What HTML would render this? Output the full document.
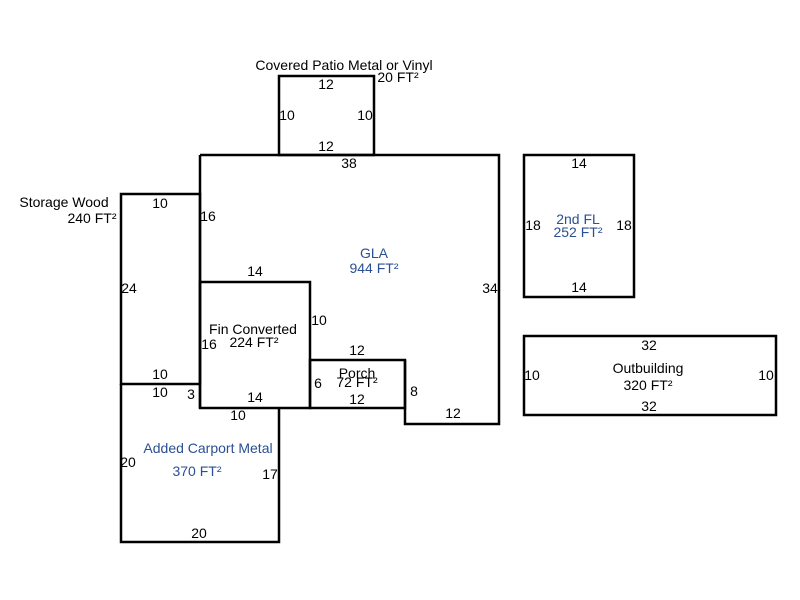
<!DOCTYPE html>
<html><head><style>html,body{margin:0;padding:0;background:#fff}svg{display:block}text{font-family:"Liberation Sans",Arial,sans-serif;font-size:14px;fill:#000}.b{fill:#2a4f94}</style></head><body>
<svg width="800" height="600" viewBox="0 0 800 600" xmlns="http://www.w3.org/2000/svg">
<g fill="none" stroke="#000" stroke-width="2.5">
<rect x="279" y="76" width="95" height="79"/>
<path d="M200 155 H499 V424 H405 V360"/>
<path d="M200 155 V408"/>
<rect x="121" y="194" width="79" height="190"/>
<rect x="200" y="282" width="110" height="126"/>
<rect x="310" y="360" width="95" height="48"/>
<path d="M121 384 V542 H279 V408"/>
<rect x="524" y="155" width="110" height="142"/>
<rect x="524" y="336" width="252" height="79"/>
</g>
<g text-anchor="middle">
<text x="344" y="70">Covered Patio Metal or Vinyl</text>
<text x="398" y="82">20 FT²</text>
<text x="326" y="89">12</text>
<text x="287" y="120">10</text>
<text x="365" y="120">10</text>
<text x="326" y="151">12</text>
<text x="349" y="168">38</text>
<text x="64" y="207">Storage Wood</text>
<text x="92" y="223">240 FT²</text>
<text x="160" y="208">10</text>
<text x="208" y="221">16</text>
<text x="129" y="293">24</text>
<text x="160" y="379">10</text>
<text x="160" y="397">10</text>
<text x="191" y="399">3</text>
<text class="b" x="374" y="258">GLA</text>
<text class="b" x="374" y="273">944 FT²</text>
<text x="490" y="293">34</text>
<text x="255" y="276">14</text>
<text x="253" y="334">Fin Converted</text>
<text x="254" y="347">224 FT²</text>
<text x="209" y="349">16</text>
<text x="319" y="325">10</text>
<text x="357" y="355">12</text>
<text x="357" y="378">Porch</text>
<text x="357" y="387">72 FT²</text>
<text x="318" y="388">6</text>
<text x="357" y="404">12</text>
<text x="414" y="396">8</text>
<text x="453" y="418">12</text>
<text x="255" y="402">14</text>
<text x="238" y="420">10</text>
<text class="b" x="208" y="453">Added Carport Metal</text>
<text class="b" x="197" y="476">370 FT²</text>
<text x="128" y="467">20</text>
<text x="270" y="479">17</text>
<text x="199" y="538">20</text>
<text x="579" y="168">14</text>
<text class="b" x="578" y="224">2nd FL</text>
<text class="b" x="578" y="237">252 FT²</text>
<text x="533" y="230">18</text>
<text x="624" y="230">18</text>
<text x="579" y="292">14</text>
<text x="649" y="350">32</text>
<text x="648" y="373">Outbuilding</text>
<text x="648" y="390">320 FT²</text>
<text x="532" y="380">10</text>
<text x="766" y="380">10</text>
<text x="649" y="411">32</text>
</g>
</svg>
</body></html>
